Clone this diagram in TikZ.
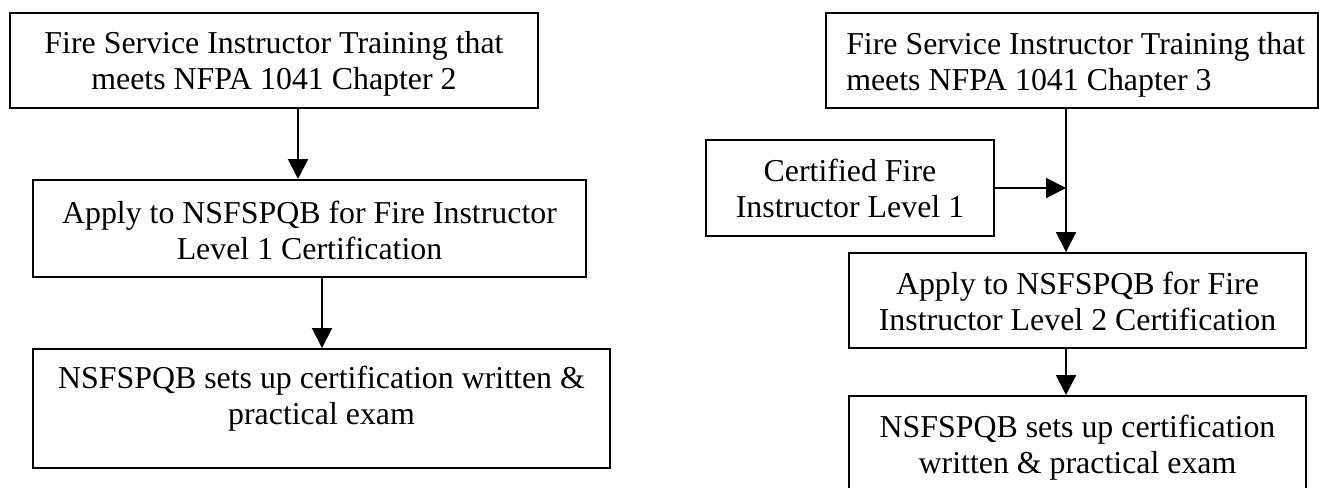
\documentclass[tikz,border=0pt]{standalone}
\usepackage{fontspec}
\setmainfont{Liberation Serif}
\usetikzlibrary{arrows.meta,fit}
\begin{document}
\begin{tikzpicture}[x=0.75pt,y=-0.75pt,
  box/.style={draw,line width=1.5pt,inner sep=0pt},
  txt/.style={font=\fontsize{23.9pt}{26.5pt}\selectfont,inner sep=0pt,align=center,anchor=base},
  arr/.style={line width=1.5pt,-{Triangle[length=15pt,width=15pt]}}]
\useasboundingbox (0,0) rectangle (1319,487);
% boxes
\node[box,fit={(10,13) (538,108)}] (b1) {};
\node[box,fit={(33,180) (586,277)}] (b2) {};
\node[box,fit={(33,349) (610,468)}] (b3) {};
\node[box,fit={(826,13) (1318,108)}] (b4) {};
\node[box,fit={(706,140) (994,236)}] (b5) {};
\node[box,fit={(849,253) (1306,348)}] (b6) {};
\node[box,fit={(849,396) (1306,520)}] (b7) {};
% texts (anchor base = baseline of the last line)
\node[txt] (t1) at (274,89) {Fire Service Instructor Training that\\meets NFPA 1041 Chapter 2};
\node[txt] (t2) at (309.5,259) {Apply to NSFSPQB for Fire Instructor\\Level 1 Certification};
\node[txt] (t3) at (321.5,424) {NSFSPQB sets up certification written \&\\practical exam};
\node[txt,align=left,anchor=base west] (t4) at (846,90) {Fire Service Instructor Training that\\meets NFPA 1041 Chapter 3};
\node[txt] (t5) at (850,217) {Certified Fire\\Instructor Level 1};
\node[txt] (t6) at (1077.5,330) {Apply to NSFSPQB for Fire\\Instructor Level 2 Certification};
\node[txt] (t7) at (1077.5,473) {NSFSPQB sets up certification\\written \& practical exam};
% connectors
\coordinate (x1) at (298,0);
\coordinate (x2) at (322,0);
\coordinate (x3) at (1066,0);
\draw[arr] (x1 |- b1.south) -- (x1 |- b2.north);
\draw[arr] (x2 |- b2.south) -- (x2 |- b3.north);
\draw[arr] (x3 |- b4.south) -- (x3 |- b6.north);
\draw[arr] (b5.east) -- (b5.east -| x3);
\draw[arr] (x3 |- b6.south) -- (x3 |- b7.north);
\end{tikzpicture}
\end{document}
